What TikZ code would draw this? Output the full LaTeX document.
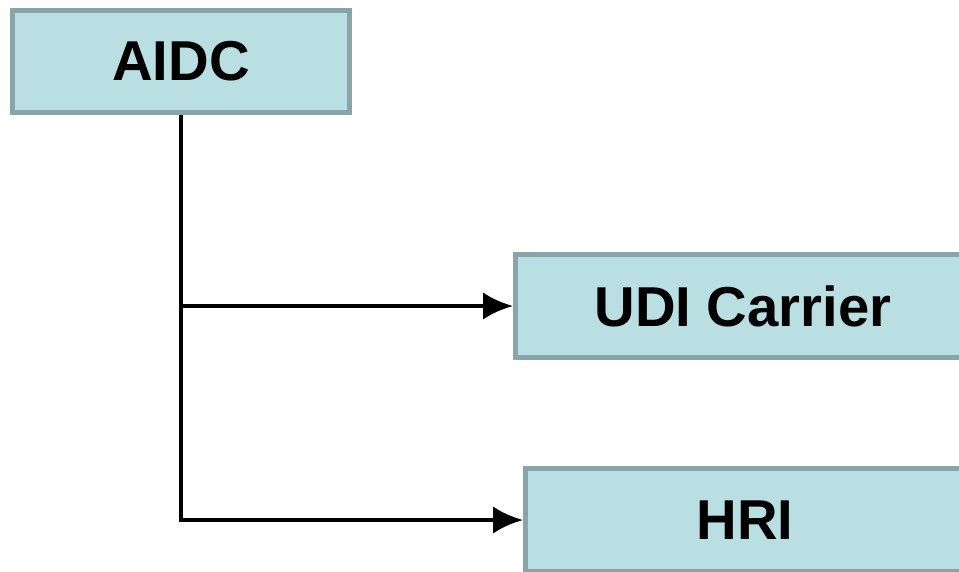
\documentclass[tikz,border=0pt]{standalone}
\usepackage{fontspec}
\setmainfont{Liberation Sans}
\usetikzlibrary{arrows,shapes,positioning}
\usetikzlibrary{arrows.meta}
\definecolor{boxfill}{HTML}{B9DFE2}
\definecolor{boxline}{HTML}{8AA5A8}
\tikzstyle{termbox}=[draw=boxline, fill=boxfill, line width=0.1cm, rectangle, inner sep=0pt, font=\bfseries\fontsize{32}{38}\selectfont]
\tikzstyle{branchArrow}=[line width=0.09cm, -{Latex[length=0.6cm,width=0.55cm]}]

\begin{document}
\begin{tikzpicture}[x=0.02cm, y=-0.02cm]
    \useasboundingbox (0, 0) rectangle (959, 571);
    \clip (0, 0) rectangle (959, 571);

    \node[termbox, minimum width=6.74cm, minimum height=2.04cm] (aidc) at (181, 61.5) {AIDC};
    \node[termbox, minimum width=9.1cm, minimum height=2.06cm] (udi) at (743, 306) {UDI Carrier};
    \node[termbox, minimum width=8.78cm, minimum height=2.06cm] (hri) at (745, 520) {HRI};

    % Arcs
    \draw[branchArrow] (aidc.south) |- (udi.west);
    \draw[branchArrow] (aidc.south) |- (hri.west);

\end{tikzpicture}
\end{document}
